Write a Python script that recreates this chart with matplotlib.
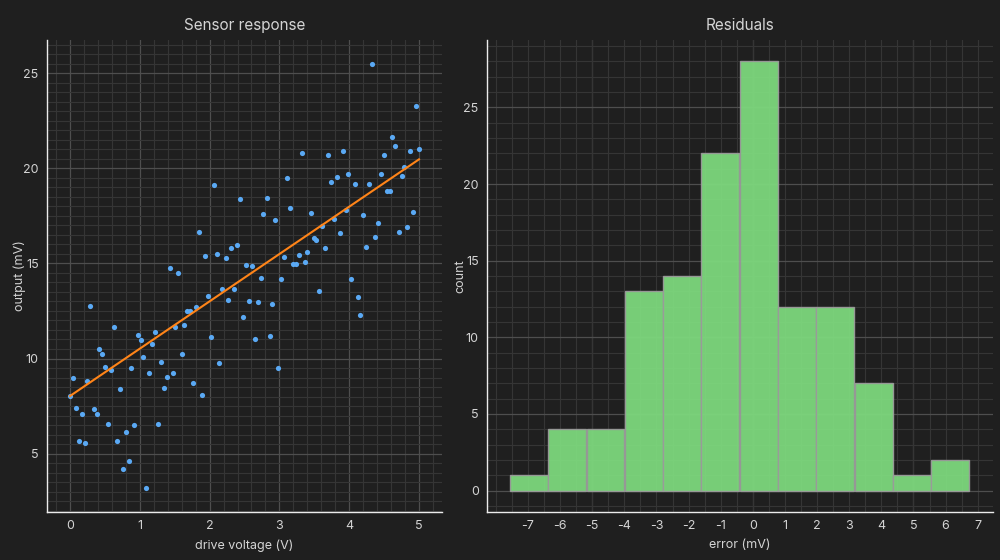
import numpy as np
import matplotlib
matplotlib.use('Agg')
import matplotlib.pyplot as plt
from matplotlib.ticker import MultipleLocator

# scatter data
drive_v = [
    0.00, 0.04, 0.08, 0.13, 0.17, 0.21, 0.25, 0.29, 0.34, 0.38,
    0.42, 0.46, 0.50, 0.55, 0.59, 0.63, 0.67, 0.71, 0.76, 0.80,
    0.84, 0.88, 0.92, 0.97, 1.01, 1.05, 1.09, 1.13, 1.18, 1.22,
    1.26, 1.30, 1.34, 1.39, 1.43, 1.47, 1.51, 1.55, 1.60, 1.64,
    1.68, 1.72, 1.76, 1.81, 1.85, 1.89, 1.93, 1.97, 2.02, 2.06,
    2.10, 2.14, 2.18, 2.23, 2.27, 2.31, 2.35, 2.39, 2.44, 2.48,
    2.52, 2.56, 2.61, 2.65, 2.69, 2.73, 2.77, 2.82, 2.86, 2.90,
    2.94, 2.98, 3.03, 3.07, 3.11, 3.15, 3.19, 3.24, 3.28, 3.32,
    3.36, 3.40, 3.45, 3.49, 3.53, 3.57, 3.61, 3.66, 3.70, 3.74,
    3.78, 3.82, 3.87, 3.91, 3.95, 3.99, 4.03, 4.08, 4.12, 4.16,
    4.20, 4.24, 4.29, 4.33, 4.37, 4.41, 4.45, 4.50, 4.54, 4.58,
    4.62, 4.66, 4.71, 4.75, 4.79, 4.83, 4.87, 4.92, 4.96, 5.00,
]
output_mv = [
    8.03, 8.98, 7.40, 5.66, 7.08, 5.56, 8.82, 12.77, 7.35, 7.08,
    10.51, 10.24, 9.56, 6.56, 9.40, 11.66, 5.66, 8.40, 4.19, 6.14,
    4.61, 9.51, 6.51, 11.24, 10.98, 10.08, 3.19, 9.24, 10.77, 11.40,
    6.56, 9.82, 8.45, 9.03, 14.77, 9.24, 11.66, 14.51, 10.24, 11.77,
    12.52, 12.52, 8.72, 12.72, 16.66, 8.08, 15.40, 13.29, 11.14, 19.14,
    15.51, 9.77, 13.66, 15.29, 13.08, 15.82, 13.66, 15.98, 18.40, 12.19,
    14.93, 13.03, 14.87, 11.03, 12.98, 14.24, 17.61, 18.45, 11.19, 12.87,
    17.29, 9.51, 14.19, 15.35, 19.51, 17.93, 14.98, 14.98, 15.45, 20.82,
    15.08, 15.61, 17.66, 16.35, 16.24, 13.56, 16.98, 15.82, 20.72, 19.29,
    17.35, 19.56, 16.61, 20.93, 17.82, 19.72, 14.17, 19.19, 13.24, 12.29,
    17.56, 15.87, 19.19, 25.51, 16.40, 17.14, 19.72, 20.72, 18.82, 18.82,
    21.66, 21.19, 16.66, 19.61, 20.08, 16.93, 20.93, 17.72, 23.29, 21.03,
]

# fitted line end points
fit_x = [0.0, 5.0]
fit_y = [8.03, 20.47]

# residual histogram
bin_edges = [-7.56, -6.37, -5.17, -3.98, -2.79, -1.60, -0.40,
             0.79, 1.98, 3.18, 4.37, 5.56, 6.76]
bin_counts = [1, 4, 4, 13, 14, 22, 28, 12, 12, 7, 1, 2]
error_ticks = list(range(-7, 8))

BG = '#1f1f1f'
MAJOR = '#4e4e4e'
MINOR = '#353535'
TEXT = '#d4d4d4'

plt.rcParams['font.family'] = ['Inter', 'DejaVu Sans']
plt.rcParams['axes.unicode_minus'] = False


def style_axis(axis):
    """dark theme look shared by both panels"""
    axis.set_facecolor(BG)
    for side in ('top', 'right'):
        axis.spines[side].set_visible(False)
    for side in ('left', 'bottom'):
        axis.spines[side].set_color('#ececec')
        axis.spines[side].set_linewidth(1.0)
    axis.tick_params(which='both', length=0, colors=TEXT, labelsize=9)
    axis.tick_params(axis='x', pad=6)
    axis.tick_params(axis='y', pad=6)
    axis.grid(which='minor', color=MINOR, linewidth=0.8)
    axis.set_axisbelow(True)


fig = plt.figure(figsize=(10, 5.6), dpi=100, facecolor=BG)

# left panel: sensor response
ax1 = fig.add_axes([0.047, 0.0857, 0.395, 0.843])
style_axis(ax1)
ax1.grid(which='major', color=MAJOR, linewidth=0.9)
ax1.xaxis.set_major_locator(MultipleLocator(1))
ax1.xaxis.set_minor_locator(MultipleLocator(0.2))
ax1.yaxis.set_major_locator(MultipleLocator(5))
ax1.yaxis.set_minor_locator(MultipleLocator(0.5))
ax1.scatter(drive_v, output_mv, s=14, color='#5aa9f4', zorder=3, linewidths=0)
ax1.plot(fit_x, fit_y, color='#ff8418', linewidth=1.5, zorder=4)
ax1.set_xlim(-0.33, 5.33)
ax1.set_ylim(1.93, 26.75)
ax1.set_title('Sensor response', color=TEXT, fontsize=11, pad=7)
ax1.set_xlabel('drive voltage (V)', color=TEXT, fontsize=9, labelpad=5)
ax1.set_ylabel('output (mV)', color=TEXT, fontsize=9, labelpad=-2)

# right panel: residual histogram
ax2 = fig.add_axes([0.487, 0.0857, 0.506, 0.843])
style_axis(ax2)
ax2.grid(which='major', axis='y', color=MAJOR, linewidth=0.9)
ax2.grid(which='major', axis='x', color=MINOR, linewidth=0.8)
ax2.set_xticks(error_ticks)
ax2.xaxis.set_minor_locator(MultipleLocator(0.5))
ax2.yaxis.set_major_locator(MultipleLocator(5))
ax2.yaxis.set_minor_locator(MultipleLocator(1))
for v in (-5, 0, 5):
    ax2.axvline(v, color=MAJOR, linewidth=0.9, zorder=0.5)
edges = np.array(bin_edges)
ax2.bar(edges[:-1], bin_counts, width=np.diff(edges) * 0.985, align='edge',
        color='#7dd87d', edgecolor='#9a9a9a', linewidth=1.0, alpha=0.95, zorder=3)
span = edges[-1] - edges[0]
ax2.set_xlim(edges[0] - 0.05 * span, edges[-1] + 0.05 * span)
ax2.set_ylim(-0.05 * max(bin_counts), 1.05 * max(bin_counts))
ax2.set_title('Residuals', color=TEXT, fontsize=11, pad=7)
ax2.set_xlabel('error (mV)', color=TEXT, fontsize=9, labelpad=5)
ax2.set_ylabel('count', color=TEXT, fontsize=9, labelpad=-2)

fig.savefig('out.png', dpi=100, facecolor=BG)
